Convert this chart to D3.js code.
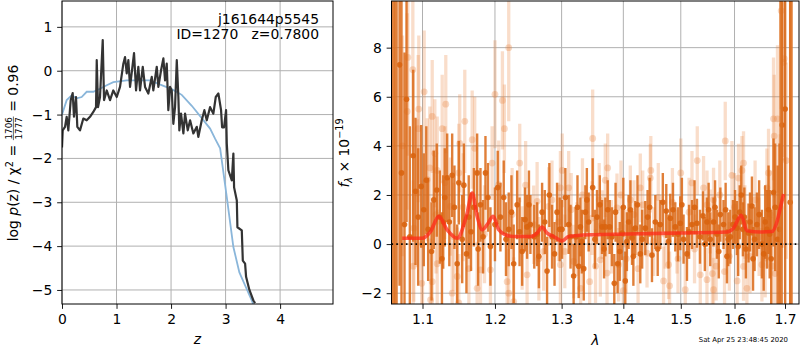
<!DOCTYPE html>
<html lang="en">
<head>
<meta charset="utf-8">
<title>Redshift fit</title>
<script src="https://cdn.jsdelivr.net/npm/d3@7"></script>
<style>
  body { margin: 0; background: #fff; }
  svg { font-family: "DejaVu Sans", sans-serif; }
  svg text { white-space: pre; }
</style>
</head>
<body>
<script>

// ---- left panel: log p(z) ----
var zFit = [0.000, 0.013, 0.055, 0.086, 0.116, 0.160, 0.196, 0.220, 0.257, 0.281, 0.330, 0.391, 0.453, 0.514, 0.574, 0.624, 0.637, 0.661, 0.697, 0.747,
            0.771, 0.820, 0.881, 0.941, 1.004, 1.064, 1.125, 1.156, 1.187, 1.217, 1.248, 1.321, 1.358, 1.400, 1.431, 1.481, 1.523, 1.583, 1.646, 1.675,
            1.738, 1.767, 1.817, 1.859, 1.890, 1.921, 1.950, 1.982, 2.013, 2.042, 2.073, 2.105, 2.134, 2.152, 2.183, 2.226, 2.257, 2.306, 2.349, 2.409,
            2.472, 2.500, 2.563, 2.611, 2.655, 2.716, 2.776, 2.820, 2.868, 2.917, 2.936, 2.972, 3.009, 3.022, 3.051, 3.114, 3.143, 3.156, 3.206, 3.217,
            3.297, 3.316, 3.358, 3.376, 3.437, 3.510, 3.541];
var logPz = [-1.75, -1.36, -1.28, -1.05, -1.36, -0.67, -0.51, -1.05, -0.60, -1.28, -1.36, -1.09, -1.13, -1.05, -0.94, -0.83, 0.24, -0.83, -0.60, 0.70,
             -0.67, -0.45, -0.67, -0.45, -0.60, -0.37, 0.16, 0.31, -0.06, 0.24, -0.37, 0.40, -0.45, 0.09, -0.45, 0.09, -0.37, -0.52, -0.14, -0.45,
             0.09, -0.37, 0.01, 0.28, -0.22, 0.16, -0.90, -0.37, -0.45, -1.21, -0.83, 0.24, -0.60, -1.36, -0.98, -1.43, -0.98, -1.36, -1.13, -1.43,
             -1.28, -1.51, -1.13, -0.90, -1.13, -0.83, -0.98, -0.60, -0.52, -0.90, -1.29, -1.29, -0.90, -1.66, -2.27, -2.50, -1.89, -2.66, -2.96, -3.57,
             -3.64, -4.33, -4.40, -4.70, -5.00, -5.24, -5.30];

var zPrior = [0.000, 0.013, 0.086, 0.178, 0.270, 0.361, 0.453, 0.574, 0.697, 0.820, 0.941, 1.187, 1.431, 1.615, 1.767, 2.013, 2.196, 2.380, 2.563, 2.716,
              2.807, 2.900, 3.022, 3.143, 3.253, 3.480, 3.560];
var logPrior = [-1.00, -0.95, -0.67, -0.56, -0.63, -0.60, -0.48, -0.48, -0.41, -0.33, -0.26, -0.22, -0.22, -0.22, -0.30, -0.42, -0.55, -0.80, -1.08, -1.32,
                -1.55, -1.77, -2.88, -4.02, -4.60, -5.24, -5.50];

var zTicks = [0, 1, 2, 3, 4];
var pTicks = [1, 0, -1, -2, -3, -4, -5];

// ---- right panel: spectrum ----
var darkLam = [1.0701, 1.0726, 1.0765, 1.0791, 1.0834, 1.0878, 1.0908, 1.0943, 1.0983, 1.1017, 1.1075, 1.1150, 1.1231, 1.1277, 1.1298, 1.1331, 1.1399, 1.1468, 1.1490, 1.1537,
               1.1596, 1.1628, 1.1746, 1.1760, 1.1793, 1.1864, 1.1900, 1.1935, 1.2000, 1.2079, 1.2127, 1.2200, 1.2273, 1.2324, 1.2398, 1.2440, 1.2472, 1.2522, 1.2580, 1.2623,
               1.2699, 1.2775, 1.2852, 1.2929, 1.2970, 1.3007, 1.3059, 1.3111, 1.3189, 1.3220, 1.3269, 1.3296, 1.3350, 1.3376, 1.3429, 1.3494, 1.3565, 1.3647, 1.3701, 1.3772,
               1.3849, 1.3904, 1.3978, 1.4033, 1.4089, 1.4147, 1.4203, 1.4288, 1.4374, 1.4414, 1.4490, 1.4548, 1.4635, 1.4741, 1.4812, 1.4901, 1.4991, 1.5050, 1.5112, 1.5203,
               1.5294, 1.5350, 1.5405, 1.5479, 1.5540, 1.5602, 1.5666, 1.5730, 1.5790, 1.5855, 1.5920, 1.5970, 1.6046, 1.6100, 1.6162, 1.6220, 1.6271, 1.6338, 1.6390, 1.6436,
               1.6535, 1.6600, 1.6635, 1.6667, 1.6720, 1.6767, 1.6850, 1.6888, 1.6940, 1.7003, 1.7106,
               1.1050, 1.1120, 1.1190, 1.1260, 1.1360, 1.1430, 1.1560, 1.1660, 1.1700, 1.1830, 1.2040, 1.2160, 1.2240, 1.2360, 1.2500, 1.2650, 1.2740, 1.2810, 1.2890, 1.3140,
               1.3250, 1.3320, 1.3400, 1.3530, 1.3610, 1.3680, 1.3740, 1.3810, 1.3870, 1.3940, 1.4000, 1.4060, 1.4120, 1.4170, 1.4240, 1.4320, 1.4450, 1.4590, 1.4680, 1.4780,
               1.4860, 1.4950, 1.5020, 1.5150, 1.5250, 1.5440, 1.5510, 1.5630, 1.5700, 1.5830, 1.5880, 1.6010, 1.6070, 1.6130, 1.6190, 1.6300, 1.6360, 1.6480, 1.6570, 1.6690,
               1.6800];
var darkFlux = [7.3, 2.9, 0.8, 5.9, 0.3, 3.6, 2.15, 1.1, 2.35, 1.4, 0.6, 1.8, 1.1, 0.9, 1.9, 2.7, 2.8, -0.8, 2.5, 0.2,
                -0.4, 1.1, 2.9, -0.2, 1.6, 2.9, 1.9, -0.1, 0.8, 1.1, 1.9, 0.6, -0.8, 1.6, -0.3, 1.0, 0.7, 0.8, 0.3, 0.4,
                1.3, -1.1, 0.3, 1.3, 0.6, 0.6, 1.9, 0.8, -1.3, 0.3, -0.9, 0.7, -1.0, 1.3, 0.9, 2.3, 1.1, 0.7, 0.7, 0.7,
                -1.6, -0.8, 0.45, -1.5, 0.9, 0.25, 0.65, -0.4, 0.65, 1.1, -0.45, 0.9, 0.8, 1.35, 1.05, 0.7, 0.85, 0.2, -0.4, 0.8,
                0.85, 0.3, 1.15, 0.9, 0.2, 0.9, 0.4, 1.2, 0.8, -0.5, 0.3, 0.8, 0.65, 1.3, 0.6, -0.2, 0.45, 1.55, 0.2, 0.8,
                0.0, 0.9, 0.6, 1.4, -0.6, 2.1, 0.2, 0.6, 4.85, 5.5, 1.7,
                2.6, -0.3, 2.2, -0.6, 0.9, 1.5, 2.4, 0.5, 1.5, 0.3, 2.3, 0.2, 1.3, 0.5, 1.6, -0.5, 0.9, 2.0, -0.4, 0.3,
                1.5, 0.1, 1.8, 0.2, 1.6, -0.2, 1.4, 0.3, 1.3, -0.3, 1.5, 0.1, 1.4, -0.5, 1.6, 0.2, 1.5, -0.2, 1.7, 0.1,
                1.4, 0.4, 1.6, 0.5, 1.5, 0.0, 1.4, 1.5, -0.3, 1.4, 0.2, 1.1, -0.1, 2.0, 1.1, 0.9, -0.6, 1.2, -0.4, 0.4,
                1.5];
var darkErr = [9, 10, 7, 5, 4.5, 3.5, 3, 2.8, 2.5, 2.3, 2.1, 2.0, 1.9, 1.9, 2.0, 1.8, 1.7, 1.6, 1.7, 1.8,
               1.6, 1.7, 1.6, 1.5, 1.5, 1.5, 1.4, 1.6, 1.5, 1.4, 1.5, 1.5, 1.6, 1.4, 1.4, 1.3, 1.3, 1.2, 1.3, 1.3,
               1.2, 1.4, 1.3, 1.2, 1.3, 1.2, 1.2, 1.2, 1.3, 1.2, 1.3, 1.2, 1.3, 1.1, 1.2, 1.2, 1.1, 1.1, 1.2, 1.1,
               1.2, 1.2, 1.1, 1.2, 1.1, 1.1, 1.1, 1.2, 1.1, 1.1, 1.1, 1.1, 1.0, 1.1, 1.0, 1.0, 1.1, 1.0, 1.1, 1.0,
               1.0, 1.1, 1.0, 1.0, 1.1, 1.0, 1.0, 1.1, 1.0, 1.1, 1.1, 1.0, 1.1, 1.1, 1.1, 1.2, 1.2, 1.2, 1.3, 1.3,
               1.4, 1.5, 1.6, 1.8, 2.0, 2.2, 3.0, 3.5, 5.0, 9.0, 12.0,
               2.2, 2.0, 1.9, 1.9, 1.8, 1.7, 1.7, 1.6, 1.6, 1.5, 1.5, 1.5, 1.5, 1.4, 1.4, 1.3, 1.3, 1.3, 1.3, 1.3,
               1.3, 1.3, 1.3, 1.2, 1.2, 1.2, 1.2, 1.2, 1.2, 1.2, 1.2, 1.2, 1.2, 1.2, 1.2, 1.2, 1.2, 1.1, 1.2, 1.1,
               1.1, 1.1, 1.1, 1.1, 1.1, 1.1, 1.1, 1.1, 1.1, 1.1, 1.1, 1.1, 1.2, 1.2, 1.2, 1.2, 1.3, 1.4, 1.5, 1.8,
               2.6];

var lightLam = [1.0739, 1.0800, 1.0808, 1.0873, 1.0878, 1.0886, 1.0930, 1.0943, 1.0951, 1.1000, 1.1022, 1.1062, 1.1097, 1.1106, 1.1129, 1.1129, 1.1164, 1.1180, 1.1196, 1.1196,
                1.1263, 1.1312, 1.1376, 1.1399, 1.1420, 1.1468, 1.1490, 1.1490, 1.1503, 1.1550, 1.1573, 1.1676, 1.1712, 1.1746, 1.1793, 1.1850, 1.1935, 1.1959, 1.2054, 1.2108,
                1.2137, 1.2177, 1.2200, 1.2250, 1.2273, 1.2362, 1.2398, 1.2450, 1.2472, 1.2571, 1.2623, 1.2650, 1.2723, 1.2800, 1.2850, 1.2950, 1.2981, 1.2981, 1.3050, 1.3111,
                1.3150, 1.3189, 1.3240, 1.3330, 1.3445, 1.3484, 1.3494, 1.3540, 1.3600, 1.3619, 1.3647, 1.3729, 1.3739, 1.3800, 1.3894, 1.3921, 1.3960, 1.4033, 1.4050, 1.4118,
                1.4180, 1.4250, 1.4288, 1.4330, 1.4404, 1.4461, 1.4520, 1.4600, 1.4693, 1.4720, 1.4782, 1.4850, 1.4932, 1.4950, 1.5081, 1.5150, 1.5203, 1.5250, 1.5355, 1.5416,
                1.5479, 1.5480, 1.5540, 1.5602, 1.5602, 1.5650, 1.5720, 1.5809, 1.5823, 1.5900, 1.6000, 1.6077, 1.6143, 1.6174, 1.6174, 1.6200, 1.6240, 1.6300, 1.6400, 1.6480,
                1.6535, 1.6600, 1.6634, 1.6667, 1.6700, 1.6734, 1.6767, 1.6781, 1.6800, 1.6847, 1.6902, 1.6922, 1.6969, 1.6983, 1.7024,
                1.3010, 1.3300, 1.3700, 1.4000, 1.4470, 1.4800, 1.5000, 1.5300, 1.5580, 1.5950, 1.6050, 1.2200, 1.1630, 1.1300, 1.2000, 1.0990];
var lightFlux = [4.0, 5.4, 7.6, 7.1, -0.9, 0.65, 2.08, 4.7, 5.5, 0.0, 6.2, 2.62, 3.1, -2.27, 5.2, -1.53, 3.7, 1.2, 3.0, -0.8,
                 4.7, 5.7, 1.53, -2.0, 0.3, -1.32, 2.9, -2.4, 4.1, 1.5, 5.0, 4.25, 3.9, -1.8, -1.05, 0.4, -1.05, 3.3, 2.42, 5.85,
                 4.7, -1.53, 8.0, 1.2, -2.34, 3.3, -0.16, 2.4, -1.25, 0.79, 1.74, -0.6, -0.3, 1.53, 1.8, 0.9, 2.29, -0.84, -0.3, 2.29,
                 1.4, -0.71, 0.2, 2.0, -1.53, 1.06, 4.3, -0.9, 1.8, -0.64, 0.79, -1.18, 3.1, 0.3, 1.47, -0.84, 2.0, 0.0, -0.6, 1.8,
                 1.2, -1.0, 2.29, 1.6, -0.37, 2.69, 0.1, 1.9, -1.5, 0.4, -0.84, 1.7, 0.1, -0.6, -1.86, 1.3, 2.49, -0.2, -1.25, 2.29,
                 -1.45, 1.6, 0.92, 1.81, -1.86, -0.9, 2.0, -1.12, 4.2, -0.5, 1.5, 2.69, 3.0, 3.3, -0.91, 0.9, -1.8, -0.5, 1.8, 0.3,
                 -0.84, -0.57, 2.29, 2.9, 1.2, -0.9, 5.1, 4.4, -1.2, 5.1, 1.47, 9.5, 7.4, 7.55, 3.4,
                 3.0, -1.8, 2.6, -1.9, 3.0, -1.7, 2.9, 3.4, -1.2, 2.8, -1.5, -2.0, -1.0, 2.5, 6.1, -1.6];
var lightErr = [4.5, 4.0, 4.0, 3.5, 3.5, 3.0, 3.0, 3.0, 3.0, 2.6, 2.5, 2.5, 2.5, 2.5, 2.3, 2.3, 2.2, 2.4, 2.2, 2.2,
                2.2, 2.0, 2.0, 2.0, 2.2, 2.0, 2.0, 2.0, 2.0, 2.2, 2.1, 2.0, 2.1, 1.9, 1.9, 2.0, 1.8, 1.5, 1.8, 2.0,
                1.8, 1.8, 3.0, 1.9, 1.8, 1.6, 1.7, 1.8, 1.7, 1.6, 1.6, 1.7, 1.6, 1.6, 1.6, 1.6, 1.5, 1.6, 1.5, 1.5,
                1.5, 1.5, 1.5, 1.5, 1.5, 1.5, 2.0, 1.5, 1.5, 1.5, 1.4, 1.5, 1.4, 1.5, 1.4, 1.5, 1.4, 1.4, 1.4, 1.4,
                1.4, 1.4, 1.4, 1.4, 1.4, 1.4, 1.4, 1.4, 1.4, 1.4, 1.4, 1.4, 1.3, 1.4, 1.4, 1.4, 1.3, 1.4, 1.4, 1.3,
                1.3, 1.4, 1.3, 1.3, 1.3, 1.4, 1.4, 1.4, 1.6, 1.4, 1.4, 1.4, 1.4, 1.3, 1.4, 1.5, 1.4, 1.5, 1.6, 1.6,
                1.5, 1.6, 1.6, 1.8, 1.8, 2.0, 2.5, 2.5, 2.0, 3.0, 3.0, 4.0, 4.0, 4.0, 4.0,
                1.5, 1.5, 1.5, 1.4, 1.4, 1.4, 1.4, 1.4, 1.4, 1.4, 1.4, 1.8, 2.1, 2.3, 2.2, 2.6];

// wide error bars at the ends of the grism trace
var edgeLam = [1.0622, 1.0655, 1.6920, 1.7122];
var edgeFlux = [2.0, 3.0, 3.0, 2.0];
var edgeErr = [30, 30, 30, 30];

// best-fit model
var modelLam = [1.0735, 1.0996, 1.1106, 1.1217, 1.1331, 1.1468, 1.1606, 1.1676, 1.1746, 1.1817, 1.1888, 1.1974, 1.2055, 1.2152, 1.2273, 1.2522, 1.2623, 1.2699, 1.2775, 1.2877,
                1.3007, 1.3110, 1.3457, 1.4062, 1.4932, 1.5855, 1.5981, 1.6129, 1.6241, 1.6503, 1.6737, 1.6838, 1.6904, 1.6972];
var modelFlux = [0.24, 0.24, 0.51, 1.13, 0.58, 0.24, 1.27, 2.08, 1.13, 0.58, 0.79, 1.13, 0.58, 0.38, 0.31, 0.31, 0.45, 0.69, 0.45, 0.31,
                 0.13, 0.31, 0.38, 0.41, 0.45, 0.49, 0.65, 1.17, 0.54, 0.49, 0.51, 0.92, 1.47, 2.04];

var lamTicks = [1.1, 1.2, 1.3, 1.4, 1.5, 1.6, 1.7];
var fTicks = [-2, 0, 2, 4, 6, 8];

var w = 800, h = 350;
var fs = 13.9;
var tick = 4.86;

var svg = d3.select("body").append("svg")
    .attr("width", w)
    .attr("height", h);

// panel boxes
var L = {x0: 62, x1: 333, y0: 1, y1: 304};
var R = {x0: 391.5, x1: 799, y0: 1, y1: 304};

var xZ = d3.scaleLinear().domain([0, 4.97]).range([L.x0, L.x1]);
var yP = d3.scaleLinear().domain([-5.32, 1.59]).range([L.y1, L.y0]);
var xL = d3.scaleLog().domain([1.0598, 1.7288]).range([R.x0, R.x1]);
var yF = d3.scaleLinear().domain([-2.44, 9.9]).range([R.y1, R.y0]);

var defs = svg.append("defs");
defs.append("clipPath").attr("id", "clipL").append("rect")
    .attr("x", L.x0).attr("y", L.y0).attr("width", L.x1 - L.x0).attr("height", L.y1 - L.y0);
defs.append("clipPath").attr("id", "clipR").append("rect")
    .attr("x", R.x0).attr("y", R.y0).attr("width", R.x1 - R.x0).attr("height", R.y1 - R.y0);

function grid(g, xs, ys, xt, yt, box) {
  g.selectAll(".gx").data(xt).enter().append("line")
    .attr("x1", function(d) { return xs(d); }).attr("x2", function(d) { return xs(d); })
    .attr("y1", box.y0).attr("y2", box.y1)
    .attr("stroke", "#b0b0b0").attr("stroke-width", 1);
  g.selectAll(".gy").data(yt).enter().append("line")
    .attr("x1", box.x0).attr("x2", box.x1)
    .attr("y1", function(d) { return ys(d); }).attr("y2", function(d) { return ys(d); })
    .attr("stroke", "#b0b0b0").attr("stroke-width", 1);
}

function axes(xs, ys, xt, yt, box, xf, yf) {
  var gx = svg.append("g").attr("transform", "translate(0," + box.y1 + ")")
    .call(d3.axisBottom(xs).tickValues(xt).tickFormat(xf).tickSize(tick).tickPadding(4.86));
  var gy = svg.append("g").attr("transform", "translate(" + box.x0 + ",0)")
    .call(d3.axisLeft(ys).tickValues(yt).tickFormat(yf).tickSize(tick).tickPadding(4.86));
  [gx, gy].forEach(function(g) {
    g.select(".domain").remove();
    g.selectAll("text").attr("font-size", fs).attr("font-family", "DejaVu Sans").attr("fill", "#000");
    g.selectAll("line").attr("stroke", "#000").attr("stroke-width", 0.9);
  });
  svg.append("rect")
    .attr("x", box.x0).attr("y", box.y0)
    .attr("width", box.x1 - box.x0).attr("height", box.y1 - box.y0)
    .attr("fill", "none").attr("stroke", "#000").attr("stroke-width", 1);
}

// ---------- left panel ----------
var gL = svg.append("g");
grid(gL, xZ, yP, zTicks, pTicks, L);

var pzLine = d3.line()
    .x(function(d) { return xZ(d[0]); })
    .y(function(d) { return yP(d[1]); });

var plotL = svg.append("g").attr("clip-path", "url(#clipL)");
plotL.append("path")
    .datum(d3.zip(zPrior, logPrior))
    .attr("d", pzLine)
    .attr("fill", "none")
    .attr("stroke", "#8ab6da")
    .attr("stroke-width", 1.8);
plotL.append("path")
    .datum(d3.zip(zFit, logPz))
    .attr("d", pzLine)
    .attr("fill", "none")
    .attr("stroke", "#333")
    .attr("stroke-width", 2.2)
    .attr("stroke-linejoin", "round");

axes(xZ, yP, zTicks, pTicks, L, d3.format("d"), d3.format("d"));

svg.append("text").attr("x", 319).attr("y", 24)
    .attr("text-anchor", "end").attr("font-size", fs)
    .text("j161644p5545");
svg.append("text").attr("x", 319).attr("y", 38.5)
    .attr("text-anchor", "end").attr("font-size", fs)
    .text("ID=1270   z=0.7800");

// x label
svg.append("text").attr("x", (L.x0 + L.x1) / 2).attr("y", 344)
    .attr("text-anchor", "middle").attr("font-size", fs).attr("font-style", "italic")
    .text("z");

// y label, the fraction is built from stacked tspans
var digitW = 4 * 0.636 * 8.8;
var yl = svg.append("g").attr("transform", "translate(18,153) rotate(-90)");
var lab = yl.append("text").attr("x", 0).attr("y", 0)
    .attr("font-size", fs).attr("text-anchor", "middle");
lab.append("tspan").text("log ");
lab.append("tspan").attr("font-style", "italic").text("p");
lab.append("tspan").text("(z) / \u03c7");
lab.append("tspan").attr("font-size", 9.7).attr("dy", -5.5).text("2");
lab.append("tspan").attr("dy", 5.5).text(" = ");
lab.append("tspan").attr("font-size", 8.8).attr("dx", 1).attr("dy", -6.2).text("1706");
lab.append("tspan").attr("font-size", 8.8).attr("dx", -digitW).attr("dy", 9.8).text("1777");
lab.append("tspan").attr("dx", 1).attr("dy", -3.6).text(" = 0.96");
try {
  var a = lab.node().getExtentOfChar(16), b = lab.node().getExtentOfChar(19);
  yl.append("line")
    .attr("x1", a.x - 0.6).attr("x2", b.x + b.width + 0.6)
    .attr("y1", -4.6).attr("y2", -4.6)
    .attr("stroke", "#000").attr("stroke-width", 0.6);
} catch (e) { console.error(e); }

// ---------- right panel ----------
var gR = svg.append("g");
grid(gR, xL, yF, lamTicks, fTicks, R);

var plotR = svg.append("g").attr("clip-path", "url(#clipR)");

function errbars(g, lam, flux, err, color, op, width) {
  g.selectAll(null).data(d3.range(lam.length)).enter().append("line")
    .attr("x1", function(i) { return xL(lam[i]); })
    .attr("x2", function(i) { return xL(lam[i]); })
    .attr("y1", function(i) { return yF(flux[i] - err[i]); })
    .attr("y2", function(i) { return yF(flux[i] + err[i]); })
    .attr("stroke", color).attr("stroke-opacity", op).attr("stroke-width", width);
}
function dots(g, lam, flux, color, op, r) {
  g.selectAll(null).data(d3.range(lam.length)).enter().append("circle")
    .attr("cx", function(i) { return xL(lam[i]); })
    .attr("cy", function(i) { return yF(flux[i]); })
    .attr("r", r)
    .attr("fill", color).attr("fill-opacity", op);
}

var gLight = plotR.append("g");
errbars(gLight, lightLam, lightFlux, lightErr, "#e8803a", 0.27, 3.3);
dots(gLight, lightLam, lightFlux, "#e8803a", 0.3, 3.4);

var gDark = plotR.append("g");
errbars(gDark, darkLam, darkFlux, darkErr, "#db6816", 0.85, 2.4);
dots(gDark, darkLam, darkFlux, "#d9640f", 0.9, 2.8);
errbars(gDark, edgeLam, edgeFlux, edgeErr, "#dd7224", 0.9, 3.6);

var modelLine = d3.line()
    .curve(d3.curveMonotoneX)
    .x(function(d) { return xL(d[0]); })
    .y(function(d) { return yF(d[1]); });
plotR.append("path")
    .datum(d3.zip(modelLam, modelFlux))
    .attr("d", modelLine)
    .attr("fill", "none")
    .attr("stroke", "#ff2a1a")
    .attr("stroke-opacity", 0.75)
    .attr("stroke-width", 3.6)
    .attr("stroke-linejoin", "round");

// zero line
plotR.append("line")
    .attr("x1", R.x0).attr("x2", R.x1)
    .attr("y1", yF(0)).attr("y2", yF(0))
    .attr("stroke", "#000").attr("stroke-width", 1.6)
    .attr("stroke-dasharray", "1.6,3.2");

axes(xL, yF, lamTicks, fTicks, R, d3.format(".1f"), d3.format("d"));

svg.append("text").attr("x", (R.x0 + R.x1) / 2).attr("y", 345)
    .attr("text-anchor", "middle").attr("font-size", fs).attr("font-style", "italic")
    .text("\u03bb");

var yr = svg.append("g").attr("transform", "translate(349,153) rotate(-90)");
var tr = yr.append("text").attr("font-size", fs).attr("text-anchor", "middle");
tr.append("tspan").attr("font-style", "italic").text("f");
tr.append("tspan").attr("font-size", 9.7).attr("font-style", "italic").attr("dy", 3).text("\u03bb");
tr.append("tspan").attr("dy", -3).text(" \u00d7 10");
tr.append("tspan").attr("font-size", 9.7).attr("dy", -6).text("\u221219");

// timestamp
svg.append("text").attr("x", 788).attr("y", 342)
    .attr("text-anchor", "end").attr("font-size", 6.9)
    .text("Sat Apr 25 23:48:45 2020");

</script>
</body>
</html>
